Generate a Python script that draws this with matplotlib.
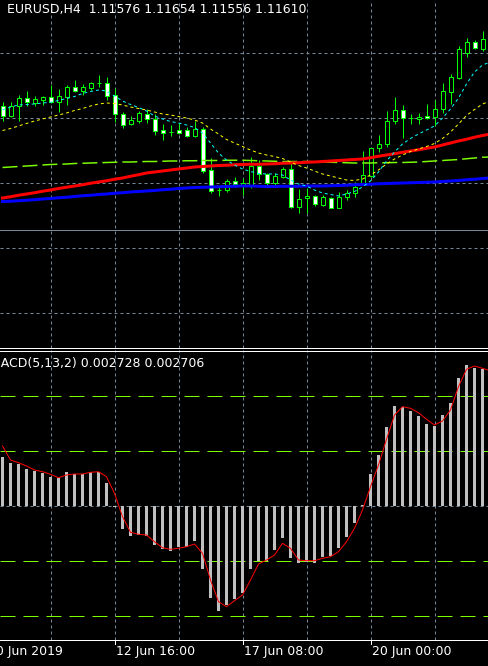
import matplotlib
matplotlib.use("Agg")
import matplotlib.pyplot as plt
from matplotlib.lines import Line2D
from matplotlib.transforms import blended_transform_factory

plt.rcParams["lines.scale_dashes"] = False
plt.rcParams["font.family"] = ["DejaVu Sans"]

# ---------------------------------------------------------------- data
symbol = "EURUSD"
period = "H4"
macd_params = (5, 13, 2)

opens = [1.11310, 1.11270, 1.11310, 1.11340, 1.11322, 1.11334, 1.11344, 1.11326, 1.11346, 1.11384,
         1.11370, 1.11382, 1.11400, 1.11400, 1.11353, 1.11276, 1.11236, 1.11249, 1.11277, 1.11256,
         1.11213, 1.11206, 1.11213, 1.11213, 1.11189, 1.11216, 1.11053, 1.10973, 1.10973, 1.11009,
         1.10993, 1.10993, 1.11069, 1.11036, 1.11000, 1.11026, 1.11056, 1.10906, 1.10940, 1.10949,
         1.10913, 1.10942, 1.10902, 1.10944, 1.10960, 1.10996, 1.11029, 1.11140, 1.11156, 1.11249,
         1.11293, 1.11260, 1.11256, 1.11269, 1.11265, 1.11296, 1.11366, 1.11422, 1.11522, 1.11564,
         1.11538, 1.11576]
highs = [1.11326, 1.11324, 1.11353, 1.11369, 1.11349, 1.11349, 1.11393, 1.11376, 1.11393, 1.11413,
         1.11397, 1.11406, 1.11433, 1.11426, 1.11380, 1.11286, 1.11269, 1.11290, 1.11296, 1.11276,
         1.11236, 1.11233, 1.11242, 1.11226, 1.11250, 1.11225, 1.11100, 1.10986, 1.11018, 1.11025,
         1.11021, 1.11105, 1.11093, 1.11041, 1.11041, 1.11063, 1.11081, 1.10977, 1.10981, 1.10953,
         1.10953, 1.10947, 1.10966, 1.10973, 1.11006, 1.11129, 1.11141, 1.11193, 1.11289, 1.11345,
         1.11313, 1.11277, 1.11281, 1.11317, 1.11333, 1.11401, 1.11437, 1.11549, 1.11581, 1.11573,
         1.11609, 1.11654]
lows = [1.11250, 1.11264, 1.11250, 1.11310, 1.11310, 1.11313, 1.11320, 1.11286, 1.11313, 1.11366,
        1.11353, 1.11373, 1.11386, 1.11333, 1.11246, 1.11220, 1.11233, 1.11242, 1.11242, 1.11193,
        1.11173, 1.11189, 1.11197, 1.11184, 1.11184, 1.11041, 1.10962, 1.10949, 1.10966, 1.10986,
        1.10953, 1.10981, 1.11013, 1.10993, 1.10993, 1.11022, 1.10902, 1.10881, 1.10882, 1.10909,
        1.10909, 1.10900, 1.10900, 1.10933, 1.10946, 1.10993, 1.11025, 1.11125, 1.11146, 1.11237,
        1.11182, 1.11237, 1.11237, 1.11257, 1.11229, 1.11282, 1.11317, 1.11417, 1.11506, 1.11537,
        1.11529, 1.11556]
closes = [1.11270, 1.11310, 1.11340, 1.11324, 1.11336, 1.11344, 1.11326, 1.11349, 1.11384, 1.11370,
          1.11384, 1.11401, 1.11401, 1.11350, 1.11276, 1.11233, 1.11253, 1.11280, 1.11256, 1.11210,
          1.11202, 1.11207, 1.11202, 1.11190, 1.11216, 1.11050, 1.10970, 1.10972, 1.11009, 1.10997,
          1.11001, 1.11069, 1.11036, 1.11000, 1.11029, 1.11056, 1.10906, 1.10936, 1.10949, 1.10916,
          1.10946, 1.10902, 1.10946, 1.10960, 1.10986, 1.11033, 1.11140, 1.11156, 1.11249, 1.11293,
          1.11260, 1.11260, 1.11264, 1.11261, 1.11297, 1.11370, 1.11425, 1.11537, 1.11564, 1.11540,
          1.11576, 1.11610]

# moving averages drawn over the candles
ma_cyan = [1.11293, 1.11305, 1.11313, 1.11315, 1.11317, 1.11321, 1.11324, 1.11331, 1.11339, 1.11347,
           1.11359, 1.11367, 1.11373, 1.11369, 1.11349, 1.11329, 1.11315, 1.11303, 1.11289, 1.11269,
           1.11257, 1.11247, 1.11241, 1.11233, 1.11223, 1.11201, 1.11161, 1.11121, 1.11093, 1.11073,
           1.11057, 1.11047, 1.11039, 1.11037, 1.11037, 1.11033, 1.11013, 1.10997, 1.10989, 1.10973,
           1.10961, 1.10955, 1.10949, 1.10957, 1.10967, 1.10985, 1.11009, 1.11045, 1.11089, 1.11125,
           1.11157, 1.11179, 1.11197, 1.11213, 1.11229, 1.11261, 1.11297, 1.11341, 1.11397, 1.11445,
           1.11473, 1.11485]
ma_yellow = [1.11211, 1.11219, 1.11229, 1.11239, 1.11249, 1.11257, 1.11265, 1.11273, 1.11281, 1.11291,
             1.11299, 1.11309, 1.11317, 1.11321, 1.11319, 1.11313, 1.11305, 1.11299, 1.11293, 1.11285,
             1.11277, 1.11273, 1.11267, 1.11261, 1.11253, 1.11241, 1.11217, 1.11197, 1.11175, 1.11161,
             1.11147, 1.11133, 1.11121, 1.11113, 1.11107, 1.11099, 1.11085, 1.11071, 1.11061, 1.11049,
             1.11037, 1.11029, 1.11021, 1.11013, 1.11011, 1.11017, 1.11033, 1.11053, 1.11077, 1.11097,
             1.11113, 1.11127, 1.11137, 1.11147, 1.11159, 1.11179, 1.11205, 1.11237, 1.11271, 1.11295,
             1.11317, 1.11329]
ma_red = [1.10941, 1.10946, 1.10952, 1.10957, 1.10962, 1.10968, 1.10973, 1.10979, 1.10984, 1.10989,
          1.10994, 1.11000, 1.11005, 1.11010, 1.11016, 1.11021, 1.11028, 1.11034, 1.11041, 1.11045,
          1.11049, 1.11053, 1.11057, 1.11061, 1.11065, 1.11067, 1.11069, 1.11071, 1.11072, 1.11074,
          1.11075, 1.11076, 1.11076, 1.11077, 1.11078, 1.11080, 1.11081, 1.11082, 1.11084, 1.11085,
          1.11087, 1.11089, 1.11091, 1.11093, 1.11095, 1.11097, 1.11102, 1.11108, 1.11113, 1.11118,
          1.11124, 1.11129, 1.11134, 1.11140, 1.11145, 1.11153, 1.11161, 1.11169, 1.11176, 1.11184,
          1.11191, 1.11197]
ma_blue = [1.10927, 1.10928, 1.10930, 1.10932, 1.10934, 1.10937, 1.10939, 1.10942, 1.10944, 1.10947,
           1.10950, 1.10952, 1.10955, 1.10957, 1.10960, 1.10962, 1.10965, 1.10967, 1.10969, 1.10971,
           1.10974, 1.10976, 1.10979, 1.10981, 1.10983, 1.10984, 1.10985, 1.10986, 1.10987, 1.10988,
           1.10989, 1.10989, 1.10988, 1.10987, 1.10987, 1.10988, 1.10988, 1.10988, 1.10989, 1.10989,
           1.10989, 1.10990, 1.10991, 1.10992, 1.10994, 1.10995, 1.10996, 1.10998, 1.10999, 1.11000,
           1.11001, 1.11002, 1.11003, 1.11004, 1.11005, 1.11007, 1.11009, 1.11011, 1.11014, 1.11016,
           1.11019, 1.11021]
ma_lime = [1.11063, 1.11065, 1.11067, 1.11069, 1.11071, 1.11073, 1.11075, 1.11076, 1.11077, 1.11079,
           1.11080, 1.11081, 1.11082, 1.11083, 1.11084, 1.11085, 1.11085, 1.11086, 1.11087, 1.11087,
           1.11088, 1.11089, 1.11089, 1.11090, 1.11090, 1.11091, 1.11091, 1.11091, 1.11092, 1.11092,
           1.11092, 1.11091, 1.11090, 1.11089, 1.11088, 1.11087, 1.11087, 1.11087, 1.11087, 1.11086,
           1.11085, 1.11084, 1.11083, 1.11082, 1.11081, 1.11081, 1.11081, 1.11082, 1.11082, 1.11083,
           1.11083, 1.11084, 1.11085, 1.11087, 1.11089, 1.11091, 1.11093, 1.11095, 1.11098, 1.11101,
           1.11104, 1.11105]

macd_main = [0.000986, 0.000866, 0.000840, 0.000746, 0.000706, 0.000666, 0.000574, 0.000554, 0.000680, 0.000640,
             0.000640, 0.000686, 0.000686, 0.000466, -0.000020, -0.000460, -0.000594, -0.000580, -0.000600, -0.000780,
             -0.000866, -0.000894, -0.000826, -0.000814, -0.000700, -0.001266, -0.001834, -0.002094, -0.001980, -0.001866,
             -0.001746, -0.001266, -0.001094, -0.001094, -0.000880, -0.000646, -0.001046, -0.001134, -0.001114, -0.001134,
             -0.001014, -0.001000, -0.000846, -0.000614, -0.000334, 0.000020, 0.000640, 0.001020, 0.001574, 0.002000,
             0.001986, 0.001900, 0.001800, 0.001640, 0.001600, 0.001820, 0.002066, 0.002566, 0.002820, 0.002754,
             0.002734, 0.002728]
macd_signal = [0.001200, 0.000920, 0.000866, 0.000800, 0.000720, 0.000686, 0.000634, 0.000566, 0.000620, 0.000640,
               0.000640, 0.000674, 0.000686, 0.000586, 0.000254, -0.000214, -0.000526, -0.000566, -0.000580, -0.000714,
               -0.000834, -0.000866, -0.000846, -0.000814, -0.000760, -0.000946, -0.001480, -0.001914, -0.002014, -0.001894,
               -0.001780, -0.001480, -0.001160, -0.001080, -0.000980, -0.000746, -0.000846, -0.001080, -0.001094, -0.001094,
               -0.001046, -0.001014, -0.000914, -0.000714, -0.000446, -0.000080, 0.000386, 0.000820, 0.001334, 0.001820,
               0.001986, 0.001954, 0.001866, 0.001734, 0.001620, 0.001700, 0.001920, 0.002386, 0.002734, 0.002800,
               0.002754, 0.002706]
macd_levels = [0.0022, 0.0011, -0.0011, -0.0022]

price_grid = [1.11521, 1.11261, 1.11001, 1.10741, 1.10481]
price_line = 1.10813
grid_bars = [6, 14, 22, 30, 38, 46, 54]
tick_bars = [-2, 14, 30, 46]
tick_labels = ["10 Jun 2019", "12 Jun 16:00", "17 Jun 08:00", "20 Jun 00:00"]

# ---------------------------------------------------------------- layout
W, H = 488, 666
PX = 0.72                      # one pixel expressed in points (dpi 100)
LIME = "#00FF00"
GRID = "#778899"
LEVEL = "#7CFC00"
XLIM = (-0.3125, 60.6875)

fig = plt.figure(figsize=(W / 100, H / 100), dpi=100, facecolor="black")


def band(top_px, bottom_px):
    return [0, 1 - bottom_px / H, 1, (bottom_px - top_px) / H]


ax = fig.add_axes(band(0, 348.5))
axm = fig.add_axes(band(349.5, 639.5))
for a in (ax, axm):
    a.set_facecolor("black")
    a.set_xlim(*XLIM)
    a.set_xticks([])
    a.set_yticks([])
    for s in a.spines.values():
        s.set_visible(False)

ax.set_ylim(1.10339, 1.11733)
axm.set_ylim(-0.00267, 0.00313)

grid_dash = (0, (3 * PX, 3 * PX))
for k in grid_bars:
    ax.axvline(k, color=GRID, lw=PX, ls=grid_dash, zorder=1)
    axm.axvline(k, color=GRID, lw=PX, ls=grid_dash, zorder=1)
for p in price_grid:
    ax.axhline(p, color=GRID, lw=PX, ls=grid_dash, zorder=1)
ax.axhline(price_line, color=GRID, lw=PX, zorder=1)

# ---------------------------------------------------------------- candles
idx = list(range(len(closes)))
bottoms = [min(o, c) for o, c in zip(opens, closes)]
heights = [abs(c - o) for o, c in zip(opens, closes)]
faces = ["white" if c < o else "black" for o, c in zip(opens, closes)]
ax.vlines(idx, lows, highs, color=LIME, lw=PX, zorder=3)
ax.bar(idx, heights, bottom=bottoms, width=0.5, color=faces,
       edgecolor=LIME, linewidth=PX, zorder=4)

# ---------------------------------------------------------------- moving averages
ax.plot(idx, ma_lime, color=LEVEL, lw=1.5 * PX, ls=(0, (15 * PX, 5 * PX)), zorder=5)
ax.plot(idx, ma_blue, color="#0000FF", lw=3 * PX, zorder=5)
ax.plot(idx, ma_red, color="#FF0000", lw=3 * PX, zorder=5)
ax.plot(idx, ma_yellow, color="#FFFF00", lw=PX, ls=(0, (3 * PX, 3 * PX)), zorder=6)
ax.plot(idx, ma_cyan, color="#00FFFF", lw=PX, ls=(0, (3 * PX, 3 * PX)), zorder=6)

# ---------------------------------------------------------------- MACD window
axm.axhline(0, color=GRID, lw=PX, ls=grid_dash, zorder=1)
for lv in macd_levels:
    axm.axhline(lv, color=LEVEL, lw=PX, ls=(0, (15 * PX, 8 * PX)), zorder=2)
axm.bar(idx, macd_main, width=0.375, color="#C0C0C0", zorder=3)
axm.plot(idx, macd_signal, color="#FF0000", lw=PX, zorder=4)

# ---------------------------------------------------------------- frame lines
for y_px in (348.5, 350.5, 639.5):
    fig.add_artist(Line2D([0, 1], [1 - y_px / H] * 2, transform=fig.transFigure,
                          color="white", lw=PX))

# time axis
tr = blended_transform_factory(axm.transData, fig.transFigure)
for k, lab in zip(tick_bars, tick_labels):
    fig.add_artist(Line2D([k, k], [1 - 639.5 / H, 1 - 644 / H], transform=tr,
                          color="white", lw=PX))
    fig.text(k + 1 / 8, 1 - 652 / H, lab, transform=tr, color="white",
             fontsize=9, ha="left", va="center")

# ---------------------------------------------------------------- captions
title = f"{symbol},{period}  {opens[-1]:.5f} {highs[-1]:.5f} {lows[-1]:.5f} {closes[-1]:.5f}"
fig.text(7 / W, 1 - 10 / H, title, color="white", fontsize=9, ha="left", va="center")
macd_caption = "MACD({},{},{}) {:.6f} {:.6f}".format(*macd_params, macd_main[-1], macd_signal[-1])
fig.text(-9.8 / W, 1 - 363 / H, macd_caption, color="white", fontsize=9, ha="left", va="center")

fig.savefig("out.png", dpi=100, facecolor="black")
